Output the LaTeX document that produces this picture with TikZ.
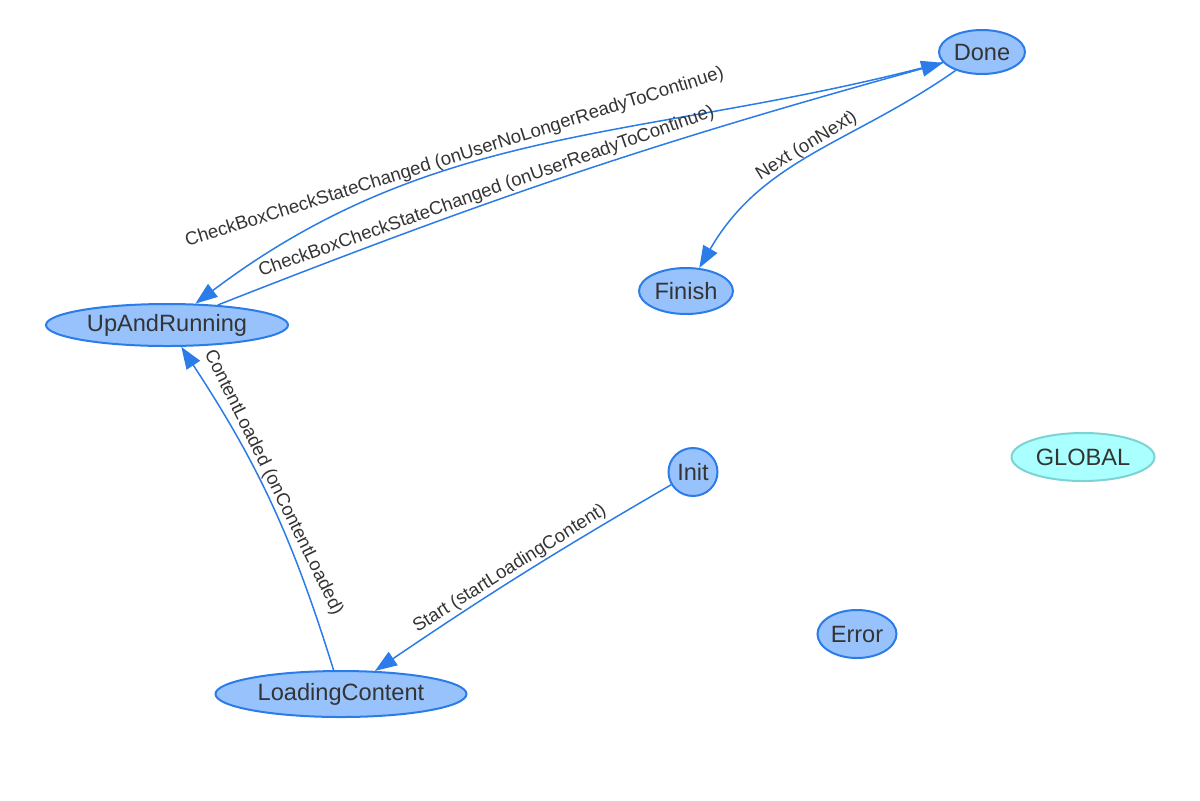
\documentclass[tikz,border=0pt]{standalone}
\usepackage{fontspec}
\setmainfont{Liberation Sans}
\usetikzlibrary{shapes.geometric,arrows.meta}
\definecolor{nodefill}{HTML}{97C2FC}
\definecolor{nodeborder}{HTML}{2B7CE9}
\definecolor{globfill}{HTML}{AAFFFF}
\definecolor{globborder}{HTML}{7DD3D3}
\definecolor{txt}{HTML}{343434}
\tikzset{
  state/.style={ellipse, draw=nodeborder, fill=nodefill, line width=1pt, inner sep=0pt,
    text=txt, font=\fontsize{11.8}{12}\selectfont},
  globalstate/.style={state, draw=globborder, fill=globfill},
  edge/.style={draw=nodeborder, line width=0.75pt, -{Triangle[length=11pt,width=8pt]}},
  elabel/.style={sloped, above, inner sep=0.8pt, text=txt, font=\fontsize{9.3}{10}\selectfont},
}
\begin{document}
\begin{tikzpicture}[x=0.5pt, y=-0.5pt]
\useasboundingbox (0,0) rectangle (1200,800);
\node[state, minimum width=43pt, minimum height=22pt] (done) at (982,52) {Done};
\node[state, minimum width=47pt, minimum height=23pt] (finish) at (686,291) {Finish};
\node[state, minimum width=121pt, minimum height=21pt] (up) at (167,325) {UpAndRunning};
\node[state, minimum width=24.5pt, minimum height=24pt] (init) at (693,472) {Init};
\node[globalstate, minimum width=71.5pt, minimum height=24pt] (global) at (1083,457) {GLOBAL};
\node[state, minimum width=39.5pt, minimum height=24pt] (error) at (857,634) {Error};
\node[state, minimum width=125.5pt, minimum height=23pt] (loading) at (341,694) {LoadingContent};

\draw[edge] (done) to[out=195, in=37]
  node[elabel, pos=0.63] {CheckBoxCheckStateChanged (onUserNoLongerReadyToContinue)} (up);
\draw[edge] (up) to[bend left=3]
  node[elabel, pos=0.37] {CheckBoxCheckStateChanged (onUserReadyToContinue)} (done);
\draw[edge] (done) to[out=215, in=60]
  node[elabel, pos=0.5] {Next (onNext)} (finish);
\draw[edge] (loading) to[bend right=8]
  node[elabel, pos=0.55] {ContentLoaded (onContentLoaded)} (up);
\draw[edge] (init) to[bend right=2]
  node[elabel, pos=0.52] {Start (startLoadingContent)} (loading);
\end{tikzpicture}
\end{document}
